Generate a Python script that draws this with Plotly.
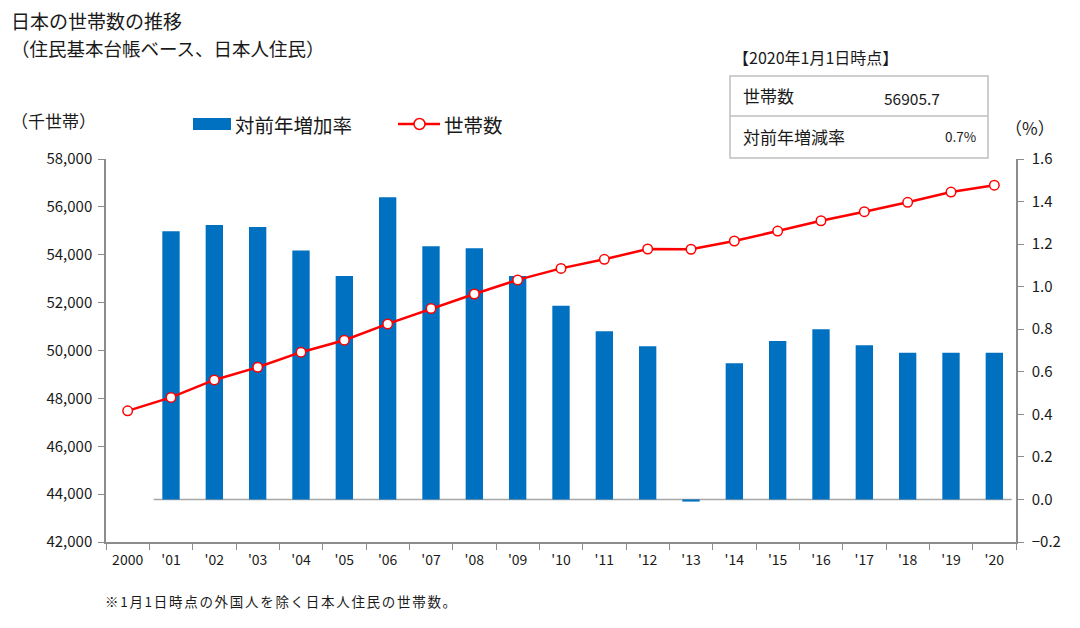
import plotly.graph_objects as go

years = ["2000", "'01", "'02", "'03", "'04", "'05", "'06", "'07", "'08", "'09", "'10",
         "'11", "'12", "'13", "'14", "'15", "'16", "'17", "'18", "'19", "'20"]
households = [47480, 48040, 48770, 49300, 49930, 50430, 51110, 51750, 52360, 52950, 53430,
              53810, 54240, 54230, 54575, 54990, 55420, 55800, 56190, 56620, 56905.7]
growth = [None, 1.26, 1.29, 1.28, 1.17, 1.05, 1.42, 1.19, 1.18, 1.05, 0.91,
          0.79, 0.72, -0.01, 0.64, 0.745, 0.80, 0.725, 0.69, 0.69, 0.69]

FONT = "Noto Sans CJK JP"
AXC = "#8c8c8c"
BAR = "#0070C0"
RED = "#FF0000"

OFF = 8                               # page body margin in the browser
W, H = 1080 - OFF, 628 - OFF
L, R, T, B = 106 - OFF, 1016 - OFF, 159 - OFF, 542 - OFF   # plot area in figure pixels

fig = go.Figure()
fig.add_trace(go.Bar(x=years, y=growth, name="対前年増加率", yaxis="y",
                     marker=dict(color=BAR, line=dict(width=0)), width=0.4))
fig.add_trace(go.Scatter(x=years, y=households, name="世帯数", mode="lines+markers", yaxis="y2",
                         line=dict(color=RED, width=2.5),
                         marker=dict(size=9.5, color="white", line=dict(color=RED, width=1.5))))

fig.update_layout(
    width=W, height=H,
    margin=dict(l=L, r=W - R, t=T, b=H - B, autoexpand=False),
    paper_bgcolor="white", plot_bgcolor="white",
    font=dict(family=FONT, color="#1a1a1a", size=14),
    showlegend=False,
    xaxis=dict(type="category", showline=True, linecolor=AXC, linewidth=1.5,
               ticks="outside", tickson="boundaries", ticklen=6, tickcolor=AXC,
               showgrid=False, tickfont=dict(size=14), range=[-0.5, 20.5],
               ticklabelstandoff=4),
    yaxis=dict(range=[-0.2, 1.6], dtick=0.2, tickformat=".1f", side="right",
               showline=True, linecolor=AXC, linewidth=1.5, ticks="outside", ticklen=6,
               tickcolor=AXC, showgrid=False, zeroline=False, tickfont=dict(size=15),
               ticklabelstandoff=5),
    yaxis2=dict(range=[42000, 58000], dtick=2000, tickformat=",d", overlaying="y", side="left",
                showline=True, linecolor=AXC, linewidth=1.5, ticks="outside", ticklen=6,
                tickcolor=AXC, showgrid=False, zeroline=False, tickfont=dict(size=15),
                ticklabelstandoff=3),
)

def px(x):
    return (x - OFF - L) / (R - L)

def py(y):
    return (B - (y - OFF)) / (B - T)

# zero baseline for the growth bars
fig.add_shape(type="line", xref="x", yref="y", x0=0.6, x1=20.4, y0=0, y1=0,
              line=dict(color="#a6a6a6", width=1.5), layer="below")

# info box
fig.add_shape(type="rect", xref="paper", yref="paper",
              x0=px(730), x1=px(988), y0=py(158), y1=py(76),
              line=dict(color="#bfbfbf", width=1.5), fillcolor="white")
fig.add_shape(type="line", xref="paper", yref="paper",
              x0=px(730), x1=px(988), y0=py(116), y1=py(116),
              line=dict(color="#bfbfbf", width=1.5))

# custom legend
fig.add_shape(type="rect", xref="paper", yref="paper",
              x0=px(193), x1=px(231), y0=py(130), y1=py(118),
              line=dict(width=0), fillcolor=BAR)
fig.add_shape(type="line", xref="paper", yref="paper",
              x0=px(398), x1=px(440), y0=py(124), y1=py(124),
              line=dict(color=RED, width=2.5))
fig.add_shape(type="circle", xref="paper", yref="paper",
              x0=px(414), x1=px(425), y0=py(129.5), y1=py(118.5),
              line=dict(color=RED, width=1.5), fillcolor="white")

def pann(text, x, y, size, xanchor="left", yanchor="middle"):
    fig.add_annotation(text=text, x=px(x), y=py(y), xref="paper", yref="paper",
                       xanchor=xanchor, yanchor=yanchor, showarrow=False,
                       font=dict(size=size, family=FONT, color="#1a1a1a"))

pann("日本の世帯数の推移", 9, 20, 19)
pann("（住民基本台帳ベース、日本人住民）", 9, 48, 18.5)
pann("（千世帯）", 9, 120, 17)
pann("対前年増加率", 233, 124, 19.5)
pann("世帯数", 442, 124, 19.5)
pann("（%）", 1003, 128, 17)
pann("【2020年1月1日時点】", 731, 57, 16)
pann("世帯数", 741, 96, 17)
pann("56905.7", 912, 98, 15.5, xanchor="center")
pann("対前年増減率", 741, 136, 17)
pann("0.7%", 978, 136, 13.5, xanchor="right")
pann('<span style="letter-spacing:1.7px">※1月1日時点の外国人を除く日本人住民の世帯数。</span>',
     103, 601, 13.5)

fig.write_html("out.html")
